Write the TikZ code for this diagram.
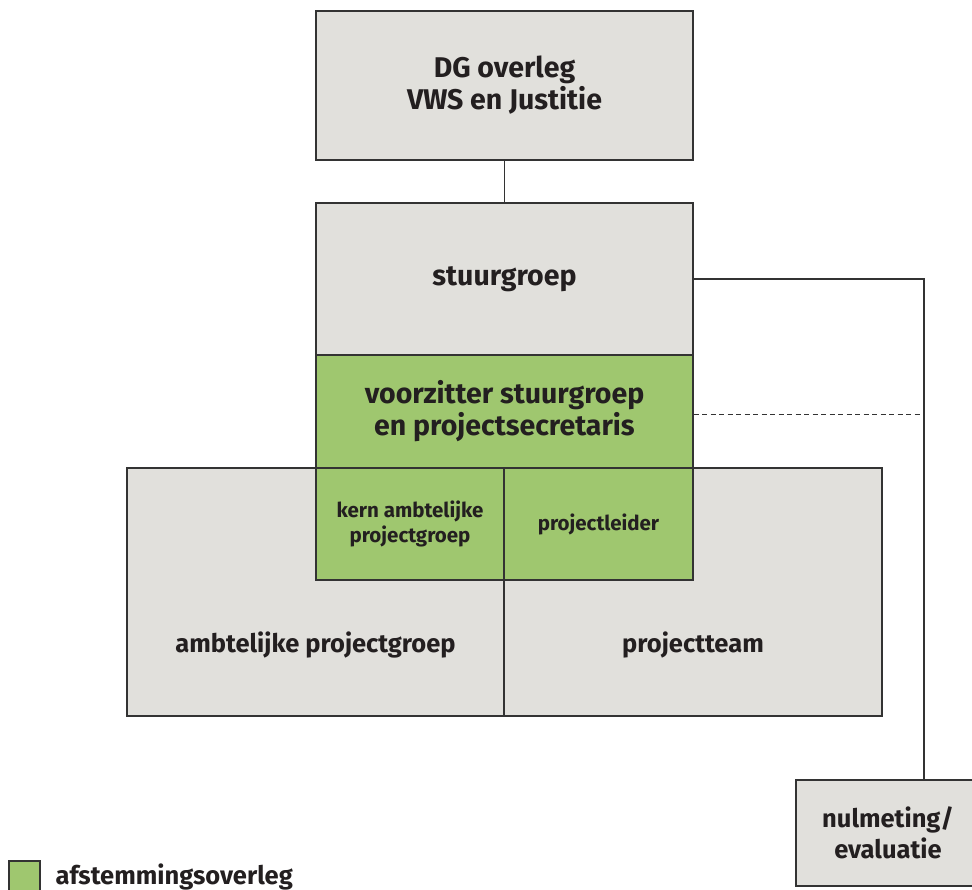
\documentclass[tikz,border=0pt]{standalone}
\usepackage{fontspec}
\setmainfont{Fira Sans}
\definecolor{boxgray}{HTML}{E1E0DC}
\definecolor{boxgreen}{HTML}{9FC76F}
\definecolor{edge}{HTML}{333333}
\definecolor{txt}{HTML}{231F20}
\begin{document}
\begin{tikzpicture}[x=1pt,y=-1pt,
  box/.style={draw=edge,line width=1.2pt,rectangle,inner sep=0pt,align=center,font=\bfseries,text=txt},
  gbox/.style={box,fill=boxgray},
  grbox/.style={box,fill=boxgreen},
  big/.style={font=\fontsize{28.5}{32}\selectfont\bfseries},
  mid/.style={font=\fontsize{25.5}{31}\selectfont\bfseries},
  small/.style={font=\fontsize{20.5}{25}\selectfont\bfseries},
  conn/.style={draw=edge,line width=1.2pt}]
\useasboundingbox (0,0) rectangle (972,889);
\node[gbox,big,minimum width=377pt,minimum height=149pt] (dg) at (504.5,85.5) {DG overleg\\VWS en Justitie};
\node[gbox,big,minimum width=377pt,minimum height=152pt] (stuur) at (504.5,279) {stuurgroep};
\node[gbox,minimum width=377pt,minimum height=248pt] (apg) at (315.5,592) {};
\node[gbox,minimum width=378pt,minimum height=248pt] (pt) at (693,592) {};
\node[mid,text=txt] (apgt) at (315.5,645) {ambtelijke projectgroep};
\node[mid,text=txt] (ptt) at (693,645) {projectteam};
\node[grbox,big,minimum width=377pt,minimum height=113pt] (voor) at (504.5,411.5) {voorzitter stuurgroep\\en projectsecretaris};
\node[grbox,small,minimum width=188pt,minimum height=112pt] (kern) at (410,524) {kern ambtelijke\\projectgroep};
\node[grbox,small,minimum width=189pt,minimum height=112pt] (pl) at (598.5,524) {projectleider};
\node[gbox,mid,minimum width=184pt,minimum height=106pt] (nul) at (888,833) {nulmeting/\\evaluatie};
\coordinate (rc) at (924,279);
\draw[conn] (dg.south) -- (stuur.north);
\draw[conn] (stuur.east) -- (rc) -- (rc |- nul.north);
\draw[conn,dashed,dash pattern=on 5pt off 3.5pt,line width=1pt] (voor.east |- 0,414) -- (rc |- 0,414);
\node[grbox,minimum width=31pt,minimum height=31pt] (leg) at (24.5,876.5) {};
\node[mid,anchor=west,text=txt] (legt) at (52,877) {afstemmingsoverleg};
\end{tikzpicture}
\end{document}
